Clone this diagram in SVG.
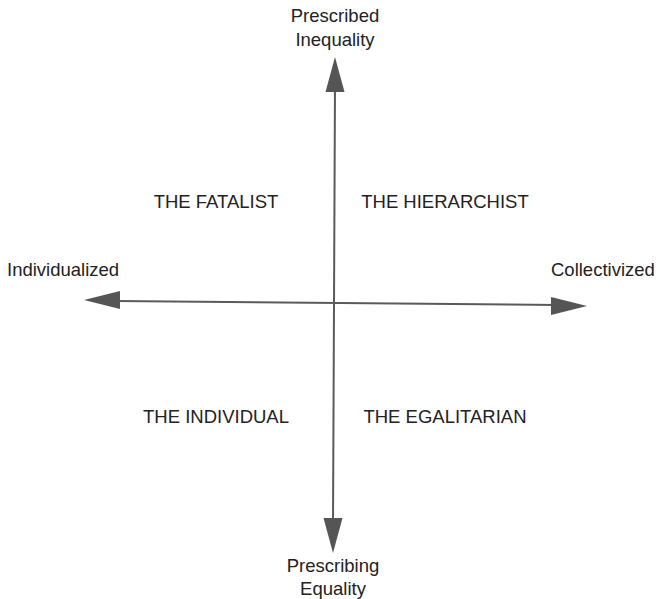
<svg xmlns="http://www.w3.org/2000/svg" width="659" height="599" viewBox="0 0 659 599">
<style>
text{font-family:"Liberation Sans",Arial,sans-serif;font-size:18.5px;fill:#222;}
.mid{text-anchor:middle;}
.axis{stroke:#5a5a5a;stroke-width:2;fill:none;}
.head{fill:#555;stroke:none;}
</style>
<rect width="659" height="599" fill="#fff"/>
<g id="connectors">
<line class="axis" x1="335" y1="85" x2="333" y2="525"/>
<polygon class="head" points="335,57 344.5,92 325.5,92"/>
<polygon class="head" points="333,553 323.5,518 342.5,518"/>
<line class="axis" x1="115" y1="301" x2="558" y2="305"/>
<polygon class="head" points="84,300 120,291 120,309"/>
<polygon class="head" points="587,306 551,297 551,315"/>
</g>
<g id="axis-top"><text class="mid" x="335" y="22">Prescribed</text><text class="mid" x="335" y="46">Inequality</text></g>
<g id="axis-bottom"><text class="mid" x="333" y="572">Prescribing</text><text class="mid" x="333" y="595">Equality</text></g>
<g id="axis-left"><text x="7" y="276">Individualized</text></g>
<g id="axis-right"><text x="551" y="276">Collectivized</text></g>
<g id="fatalist"><text class="mid" x="216" y="208">THE FATALIST</text></g>
<g id="hierarchist"><text class="mid" x="445" y="208">THE HIERARCHIST</text></g>
<g id="individual"><text class="mid" x="216" y="423">THE INDIVIDUAL</text></g>
<g id="egalitarian"><text class="mid" x="445" y="423">THE EGALITARIAN</text></g>
</svg>
